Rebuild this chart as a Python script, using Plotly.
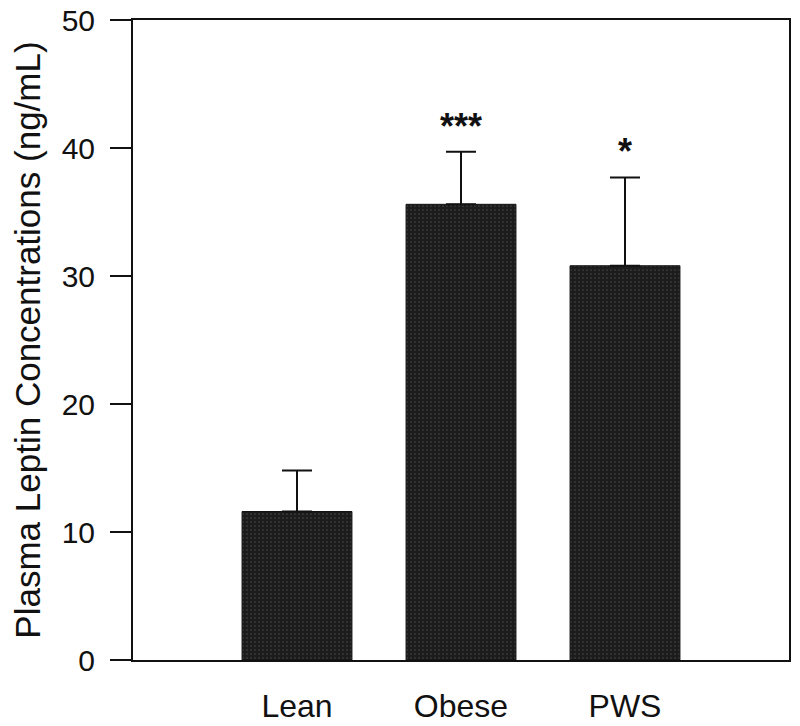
import plotly.graph_objects as go

categories = ["Lean", "Obese", "PWS"]
means = [11.6, 35.6, 30.8]
sem_upper = [3.2, 4.1, 6.9]
significance = ["", "***", "*"]
sig_y = [0, 41.7, 39.7]
y_ticks = [0, 10, 20, 30, 40, 50]

FONT = "Liberation Sans, Arial, sans-serif"

fig = go.Figure()
fig.add_trace(go.Bar(
    x=categories,
    y=means,
    width=0.67,
    marker=dict(
        color="#1c1c1c",
        line=dict(color="#111111", width=1),
        pattern=dict(shape=".", fgcolor="#6a6a6a", bgcolor="#1c1c1c", size=4, solidity=0.15),
    ),
    error_y=dict(
        type="data",
        symmetric=False,
        array=sem_upper,
        arrayminus=[0, 0, 0],
        color="#111111",
        thickness=2,
        width=15,
    ),
    showlegend=False,
))

for c, s, yy in zip(categories, significance, sig_y):
    if s:
        fig.add_annotation(x=c, y=yy, text="<b>" + s + "</b>", showarrow=False,
                           font=dict(family=FONT, size=36, color="#111111"),
                           yanchor="middle")

fig.update_layout(
    width=792, height=718,
    margin=dict(l=125, r=11, t=12, b=66),
    paper_bgcolor="white", plot_bgcolor="white",
    font=dict(family=FONT, color="#111111"),
)
fig.update_xaxes(
    range=[-1, 3], automargin=False,
    showline=True, linecolor="#111111", linewidth=2, mirror=True,
    ticks="", showgrid=False, zeroline=False,
    tickfont=dict(family=FONT, size=32, color="#111111"),
    ticklabelstandoff=17,
)
fig.update_yaxes(
    range=[0, 50], automargin=False,
    tickvals=y_ticks,
    showline=True, linecolor="#111111", linewidth=2, mirror=True,
    ticks="outside", ticklen=21, tickwidth=2, tickcolor="#111111",
    showgrid=False, zeroline=False,
    tickfont=dict(family=FONT, size=30, color="#111111"),
    ticklabelstandoff=9,
    ticklabeloverflow="allow",
    title=dict(text="Plasma Leptin Concentrations (ng/mL)",
               font=dict(family=FONT, size=35, color="#111111"), standoff=14),
)

fig.write_html("out.html")
